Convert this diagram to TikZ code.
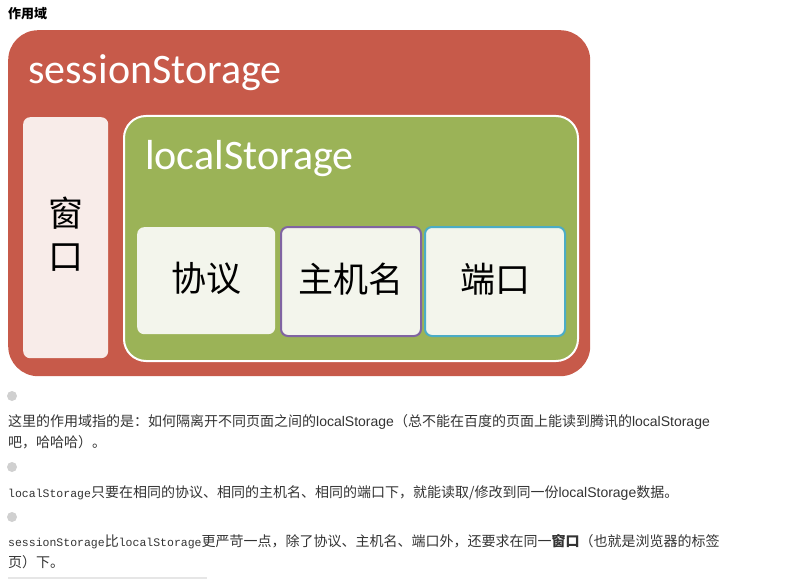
\documentclass[tikz,border=0pt]{standalone}
\usepackage{fontspec}
\newfontfamily\cjk{Noto Sans CJK SC}
\newfontfamily\calib{Carlito}
\newfontfamily\mono{Liberation Mono}
\newfontfamily\arialf{Liberation Sans}
\definecolor{sred}{RGB}{199,90,74}
\definecolor{lgreen}{RGB}{155,179,87}
\definecolor{wpink}{RGB}{248,236,233}
\definecolor{pale}{RGB}{243,245,236}
\definecolor{hpurple}{RGB}{128,100,162}
\definecolor{pblue}{RGB}{75,172,198}
\definecolor{txt}{RGB}{51,51,51}
\definecolor{dotgray}{RGB}{208,208,208}
\definecolor{rulegray}{RGB}{230,230,230}
\begin{document}
\begin{tikzpicture}[x=1pt,y=-1pt,
    box/.style={rounded corners=7pt,inner sep=0pt,anchor=north west},
    word/.style={font=\cjk\fontsize{35}{43}\selectfont,text=black,align=center},
    title/.style={anchor=base west,inner sep=0pt,text=white,font=\calib\fontsize{42}{42}\selectfont},
    txtline/.style={anchor=base west,inner sep=0pt,text=txt,font=\cjk\fontsize{14}{14}\selectfont},
    bul/.style={circle,fill=dotgray,minimum size=10pt,inner sep=0pt}]
  \useasboundingbox (0,0) rectangle (802,580);
  \node[txtline,text=black,font=\cjk\bfseries\fontsize{13}{13}\selectfont] (head) at (8,19) {作用域};
  % boxes
  \node[box,rounded corners=30pt,fill=sred,minimum width=582pt,minimum height=346pt] (sess) at (8,30) {};
  \node[title] (sesst) at (28,84) {sessionStorage};
  \node[box,fill=wpink,minimum width=85pt,minimum height=241pt] (win) at (23,117) {};
  \node[word] (wint) at (65.5,234) {窗\\口};
  \node[box,rounded corners=22pt,fill=lgreen,draw=white,line width=2pt,minimum width=454pt,minimum height=245pt] (local) at (123,115) {};
  \node[title] (localt) at (145,169) {localStorage};
  \node[box,fill=pale,minimum width=138pt,minimum height=107pt] (proto) at (137,227) {};
  \node[box,fill=pale,draw=hpurple,line width=2pt,minimum width=140pt,minimum height=109pt] (host) at (280,226) {};
  \node[box,fill=pale,draw=pblue,line width=2pt,minimum width=140pt,minimum height=109pt] (port) at (424,226) {};
  \node[word] (protot) at ([yshift=2.5pt]proto.center) {协议};
  \node[word] (hostt) at ([yshift=2.5pt]host.center) {主机名};
  \node[word] (portt) at ([yshift=2.5pt]port.center) {端口};
  % notes
  \node[bul] (b1) at (12,396) {};
  \node[bul] (b2) at (12,467) {};
  \node[bul] (b3) at (12,517) {};
  \node[txtline] (l1) at (8,426) {这里的作用域指的是：如何隔离开不同页面之间的{\arialf localStorage}（总不能在百度的页面上能读到腾讯的{\arialf localStorage}};
  \node[txtline] (l2) at (8,447) {吧，哈哈哈）。};
  \node[txtline] (l3) at (8,497) {{\mono\fontsize{11.5}{14}\selectfont localStorage}只要在相同的协议、相同的主机名、相同的端口下，就能读取/修改到同一份{\arialf localStorage}数据。};
  \node[txtline] (l4) at (8,546) {{\mono\fontsize{11.5}{14}\selectfont sessionStorage}比{\mono\fontsize{11.5}{14}\selectfont localStorage}更严苛一点，除了协议、主机名、端口外，还要求在同一{\bfseries 窗口}（也就是浏览器的标签};
  \node[txtline] (l5) at (8,567) {页）下。};
  \coordinate (r1) at (8,578);
  \coordinate (r2) at (207,578);
  \draw[rulegray,line width=2pt] (r1) -- (r2);
\end{tikzpicture}
\end{document}
